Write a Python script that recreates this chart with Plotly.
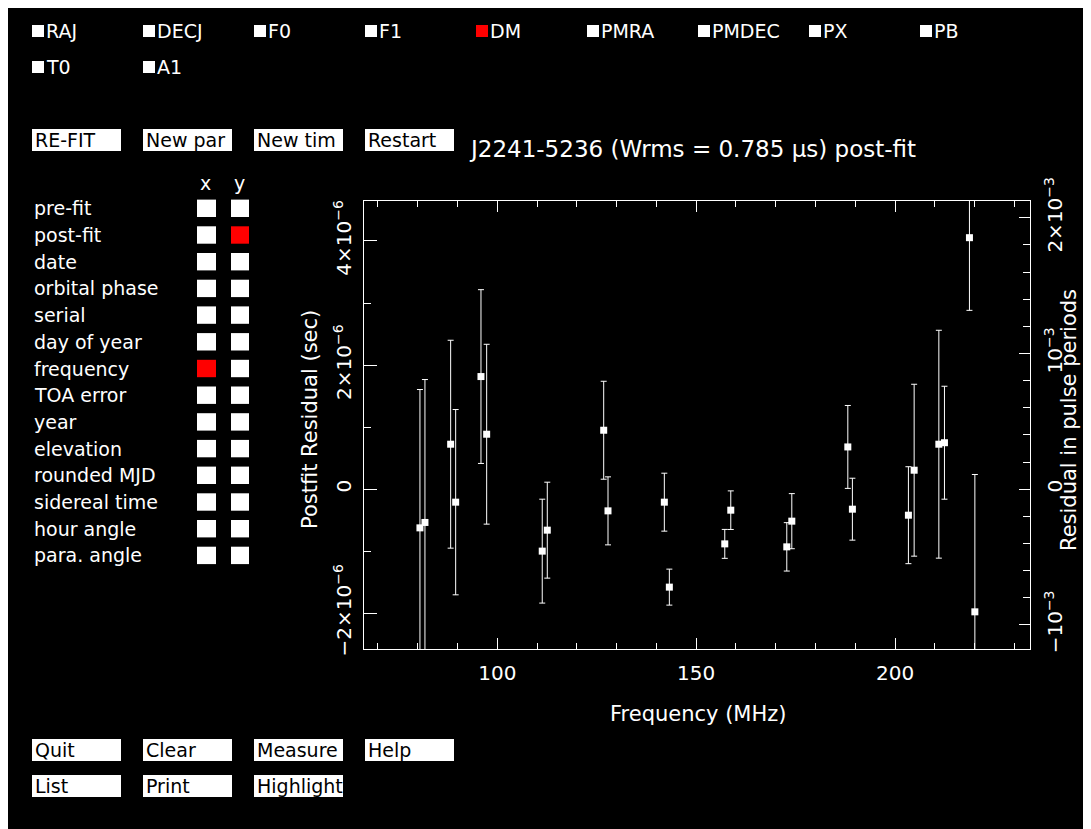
import plotly.graph_objects as go

# ---------------- data ----------------
freq_mhz = [80.56, 81.82, 88.28, 89.54, 95.90, 97.33, 111.30, 112.57, 126.75, 127.83,
            141.99, 143.25, 157.18, 158.69, 172.77, 174.03, 188.11, 189.26, 203.34, 204.78,
            210.99, 212.40, 218.68, 220.04]
resid_s = [-0.623e-6, -0.536e-6, 0.725e-6, -0.209e-6, 1.815e-6, 0.886e-6, -0.998e-6, -0.660e-6,
           0.950e-6, -0.349e-6, -0.209e-6, -1.578e-6, -0.881e-6, -0.338e-6, -0.929e-6, -0.515e-6,
           0.681e-6, -0.322e-6, -0.419e-6, 0.306e-6, 0.725e-6, 0.749e-6, 4.053e-6, -1.976e-6]
err_s = [2.229e-6, 2.303e-6, 1.675e-6, 1.493e-6, 1.400e-6, 1.449e-6, 0.837e-6, 0.773e-6,
         0.789e-6, 0.548e-6, 0.467e-6, 0.290e-6, 0.233e-6, 0.311e-6, 0.390e-6, 0.444e-6,
         0.668e-6, 0.499e-6, 0.781e-6, 1.385e-6, 1.836e-6, 0.910e-6, 1.171e-6, 2.213e-6]
period_s = 0.0021866  # pulse period used for the right-hand axis

x_range = [66.5, 233.9]
y_range = [-2.575e-6, 4.644e-6]
y_tickvals = [-2e-6, 0, 2e-6, 4e-6]
y_ticktext = ["−2×10<sup>−6</sup>", "0", "2×10<sup>−6</sup>", "4×10<sup>−6</sup>"]
y2_tickvals = [-1e-3, 0, 1e-3, 2e-3]
y2_ticktext = ["−10<sup>−3</sup>", "0", "10<sup>−3</sup>", "2×10<sup>−3</sup>"]
x_tickvals = [100, 150, 200]

params_row1 = ["RAJ", "DECJ", "F0", "F1", "DM", "PMRA", "PMDEC", "PX", "PB"]
params_row2 = ["T0", "A1"]
fitted_params = ["DM"]
top_buttons = ["RE-FIT", "New par", "New tim", "Restart"]
bottom_buttons_row1 = ["Quit", "Clear", "Measure", "Help"]
bottom_buttons_row2 = ["List", "Print", "Highlight"]
axis_choices = ["pre-fit", "post-fit", "date", "orbital phase", "serial", "day of year",
                "frequency", "TOA error", "year", "elevation", "rounded MJD",
                "sidereal time", "hour angle", "para. angle"]
x_choice = "frequency"
y_choice = "post-fit"
title_text = "J2241-5236 (Wrms = 0.785 μs) post-fit"

# ---------------- layout geometry (pixels, in window coordinates) ----------------
OFF = 8  # page body margin
W_FIG, H_FIG = 1091 - OFF, 829 - OFF
L, R, T, B = 364 - OFF, 1030 - OFF, 201 - OFF, 649 - OFF
PW, PH = R - L, B - T
FONT = "DejaVu Sans"
WHITE = "#ffffff"
RED = "#ff0000"


def X(px):
    return (px - OFF - L) / PW


def Y(py):
    return (B - (py - OFF)) / PH


fig = go.Figure()

fig.add_trace(go.Scatter(
    x=freq_mhz, y=resid_s, mode="markers",
    marker=dict(symbol="square", size=7, color=WHITE, line=dict(width=0)),
    error_y=dict(type="data", array=err_s, visible=True, color=WHITE, thickness=1, width=3),
    showlegend=False, hoverinfo="x+y",
))
# invisible copy in pulse periods so the right axis is drawn
fig.add_trace(go.Scatter(
    x=freq_mhz, y=[r / period_s for r in resid_s], yaxis="y2", mode="markers",
    marker=dict(size=1, opacity=0), showlegend=False, hoverinfo="skip",
))

shapes = []
annotations = []


def box(x0, y0, x1, y1, color):
    shapes.append(dict(type="rect", xref="paper", yref="paper", x0=X(x0), x1=X(x1), y0=Y(y1), y1=Y(y0),
                       fillcolor=color, line=dict(width=0), layer="above"))


def label(px, py, text, size=19, color=WHITE, anchor="left"):
    annotations.append(dict(xref="paper", yref="paper", x=X(px), y=Y(py), text=text, showarrow=False,
                            xanchor=anchor, yanchor="middle", font=dict(family=FONT, size=size, color=color)))


# parameter check boxes
col_x = [32 + 111 * i for i in range(9)]
for row_names, yc in ((params_row1, 31), (params_row2, 67)):
    for i, name in enumerate(row_names):
        x0 = col_x[i]
        box(x0, yc - 6, x0 + 12, yc + 6, RED if name in fitted_params else WHITE)
        label(x0 + 12, yc, name, size=19)

# buttons
def button(x0, y0, text):
    box(x0, y0, x0 + 89, y0 + 22, WHITE)
    label(x0 + 1, y0 + 11, text, size=19, color="#000000")


for i, t in enumerate(top_buttons):
    button(col_x[i], 129, t)
for i, t in enumerate(bottom_buttons_row1):
    button(col_x[i], 739, t)
for i, t in enumerate(bottom_buttons_row2):
    button(col_x[i], 775, t)

# title
label(467, 149, title_text, size=23)

# axis choice panel
label(205, 183, "x", size=19, anchor="center")
label(239, 183, "y", size=19, anchor="center")
for i, name in enumerate(axis_choices):
    yc = 208.3 + 26.7 * i
    label(32, yc, name, size=19)
    box(197, yc - 8.7, 216, yc + 8.7, RED if name == x_choice else WHITE)
    box(231, yc - 8.7, 249, yc + 8.7, RED if name == y_choice else WHITE)

# axis titles
annotations.append(dict(xref="paper", yref="paper", x=X(310), y=Y(420), text="Postfit Residual (sec)",
                        textangle=-90, showarrow=False, xanchor="center", yanchor="middle",
                        font=dict(family=FONT, size=21, color=WHITE)))
annotations.append(dict(xref="paper", yref="paper", x=X(1069), y=Y(420), text="Residual in pulse periods",
                        textangle=-90, showarrow=False, xanchor="center", yanchor="middle",
                        font=dict(family=FONT, size=21, color=WHITE)))
annotations.append(dict(xref="paper", yref="paper", x=X(698), y=Y(714), text="Frequency (MHz)",
                        showarrow=False, xanchor="center", yanchor="middle",
                        font=dict(family=FONT, size=21, color=WHITE)))

axis_common = dict(showgrid=False, zeroline=False, showline=True, linecolor=WHITE, linewidth=1,
                   ticks="inside", tickcolor=WHITE, tickwidth=1,
                   tickfont=dict(family=FONT, size=20, color=WHITE))

fig.update_layout(
    width=W_FIG, height=H_FIG, autosize=False,
    margin=dict(l=L, r=W_FIG - R, t=T, b=H_FIG - B, pad=0),
    paper_bgcolor="#000000", plot_bgcolor="#000000",
    showlegend=False,
    xaxis=dict(range=x_range, tickmode="array", tickvals=x_tickvals, ticklen=11, mirror="ticks",
               ticklabelstandoff=6,
               minor=dict(dtick=10, tick0=0, ticks="inside", ticklen=6, tickcolor=WHITE, showgrid=False),
               **axis_common),
    yaxis=dict(range=y_range, tickmode="array", tickvals=y_tickvals, ticktext=y_ticktext, ticklen=13,
               tickangle=-90, ticklabelstandoff=4,
               minor=dict(dtick=1e-6, tick0=0, ticks="inside", ticklen=7, tickcolor=WHITE, showgrid=False),
               **axis_common),
    yaxis2=dict(range=[y_range[0] / period_s, y_range[1] / period_s], overlaying="y", side="right",
                tickmode="array", tickvals=y2_tickvals, ticktext=y2_ticktext, ticklen=11,
                tickangle=-90, ticklabelstandoff=7,
                minor=dict(dtick=2e-4, tick0=0, ticks="inside", ticklen=7, tickcolor=WHITE, showgrid=False),
                **axis_common),
    shapes=shapes,
    annotations=annotations,
)

fig.write_html("out.html")
